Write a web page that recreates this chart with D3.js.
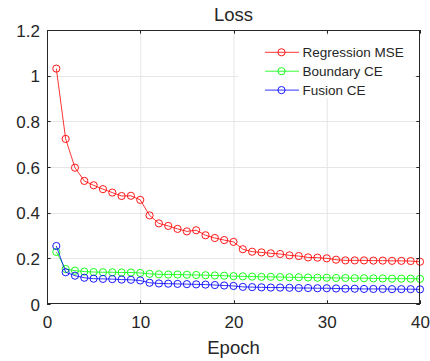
<!DOCTYPE html>
<html><head><meta charset="utf-8">
<script src="https://cdn.jsdelivr.net/npm/d3@7"></script>
<style>body{margin:0;background:#fff}svg{display:block}text{font-family:"Liberation Sans",Arial,sans-serif;fill:#262626}</style>
</head><body>
<script>
const epochs = d3.range(1, 41);
const regressionMSE = [1.031,0.723,0.597,0.539,0.520,0.503,0.488,0.473,0.474,0.456,0.388,0.353,0.342,0.329,0.318,0.323,0.301,0.289,0.280,0.272,0.240,0.229,0.226,0.222,0.219,0.213,0.210,0.204,0.203,0.200,0.194,0.191,0.191,0.191,0.190,0.190,0.189,0.189,0.188,0.185];
const boundaryCE = [0.228,0.153,0.146,0.142,0.140,0.139,0.139,0.138,0.138,0.136,0.132,0.130,0.129,0.129,0.128,0.127,0.126,0.125,0.124,0.122,0.121,0.120,0.119,0.119,0.118,0.117,0.117,0.116,0.115,0.115,0.114,0.114,0.113,0.113,0.112,0.112,0.111,0.111,0.111,0.110];
const fusionCE = [0.254,0.139,0.124,0.115,0.111,0.110,0.109,0.107,0.106,0.103,0.093,0.090,0.089,0.088,0.087,0.086,0.085,0.083,0.081,0.079,0.075,0.074,0.073,0.072,0.072,0.071,0.070,0.070,0.069,0.069,0.068,0.067,0.067,0.066,0.066,0.066,0.065,0.065,0.065,0.064];
const seriesNames = ["Regression MSE","Boundary CE","Fusion CE"];
const seriesColors = ["#ff0000","#00ff00","#0000ff"];
const xTicks = [0,10,20,30,40];
const yTicks = [0,0.2,0.4,0.6,0.8,1,1.2];
const titleText = "Loss", xLabel = "Epoch";

const W = 430, H = 361;
const L = 47, R = 420, T = 30, B = 304;
const svg = d3.select("body").append("svg").attr("width", W).attr("height", H);
const x = d3.scaleLinear().domain([0,40]).range([L,R]);
const y = d3.scaleLinear().domain([0,1.2]).range([B,T]);
const axisColor = "#262626";

// grid
const g = svg.append("g");
g.selectAll(".gx").data(xTicks.slice(1,-1)).join("line")
  .attr("x1", d=>x(d)+0.5).attr("x2", d=>x(d)+0.5).attr("y1", T).attr("y2", B)
  .attr("stroke", "#e6e6e6").attr("stroke-width", 1);
g.selectAll(".gy").data(yTicks.slice(1,-1)).join("line")
  .attr("y1", d=>Math.round(y(d))+0.5).attr("y2", d=>Math.round(y(d))+0.5).attr("x1", L).attr("x2", R)
  .attr("stroke", "#e6e6e6").attr("stroke-width", 1);

// series
const all = [regressionMSE, boundaryCE, fusionCE];
const line = d3.line().x((d,i)=>x(epochs[i])).y(d=>y(d));
all.forEach((vals, k) => {
  const sg = svg.append("g");
  sg.append("path").datum(vals).attr("d", line).attr("fill","none")
    .attr("stroke", seriesColors[k]).attr("stroke-width", 0.8);
  sg.selectAll("circle").data(vals).join("circle")
    .attr("cx", (d,i)=>x(epochs[i])).attr("cy", d=>y(d)).attr("r", 3.6)
    .attr("fill","none").attr("stroke", seriesColors[k]).attr("stroke-width", 0.9);
});

// legend
const lg = svg.append("g");
lg.append("rect").attr("x", 238).attr("y", 36).attr("width", 176).attr("height", 62).attr("fill", "#fff");
seriesNames.forEach((n, k) => {
  const yy = 52.3 + k*18.9;
  lg.append("line").attr("x1", 265).attr("x2", 299).attr("y1", yy).attr("y2", yy)
    .attr("stroke", seriesColors[k]).attr("stroke-width", 0.8);
  lg.append("circle").attr("cx", 281.5).attr("cy", yy).attr("r", 3.6).attr("fill", "none")
    .attr("stroke", seriesColors[k]).attr("stroke-width", 0.9);
  lg.append("text").attr("x", 302.5).attr("y", yy).attr("dy", "0.36em")
    .style("font-size", "13.5px").text(n);
});

// axes box
const xAxisB = d3.axisBottom(x).tickValues(xTicks).tickSize(0).tickPadding(12).tickFormat(d3.format("d"));
const yAxisL = d3.axisLeft(y).tickValues(yTicks).tickSize(0).tickPadding(7).tickFormat(d=>String(d));
const ax = svg.append("g").attr("transform", `translate(0,${B})`).call(xAxisB);
ax.select(".domain").remove();
ax.selectAll("text").style("font-size","17px").attr("fill", axisColor).attr("dy","0.71em").attr("y", 12);
const ay = svg.append("g").attr("transform", `translate(${L},0)`).call(yAxisL);
ay.select(".domain").remove();
ay.selectAll("text").style("font-size","17px").attr("fill", axisColor).attr("dy","0.36em");

// tick marks inward on all sides
const tl = 3.7;
const tg = svg.append("g").attr("stroke", axisColor).attr("stroke-width", 1);
xTicks.forEach(d => {
  const xx = Math.round(x(d))+0.5;
  tg.append("line").attr("x1", xx).attr("x2", xx).attr("y1", B).attr("y2", B - tl);
  tg.append("line").attr("x1", xx).attr("x2", xx).attr("y1", T).attr("y2", T + tl);
});
yTicks.forEach(d => {
  const yy = Math.round(y(d))+0.5;
  tg.append("line").attr("x1", L).attr("x2", L + tl).attr("y1", yy).attr("y2", yy);
  tg.append("line").attr("x1", R).attr("x2", R - tl).attr("y1", yy).attr("y2", yy);
});
svg.append("rect").attr("x", L+0.5).attr("y", T+0.5).attr("width", R-L-1).attr("height", B-T-1)
  .attr("fill","none").attr("stroke", axisColor).attr("stroke-width", 1);

// title and label
svg.append("text").attr("x", (L+R)/2).attr("y", 20.7).attr("text-anchor","middle")
  .style("font-size","18.5px").text(titleText);
svg.append("text").attr("x", (L+R)/2).attr("y", 354.3).attr("text-anchor","middle")
  .style("font-size","18.5px").text(xLabel);
</script>
</body></html>
